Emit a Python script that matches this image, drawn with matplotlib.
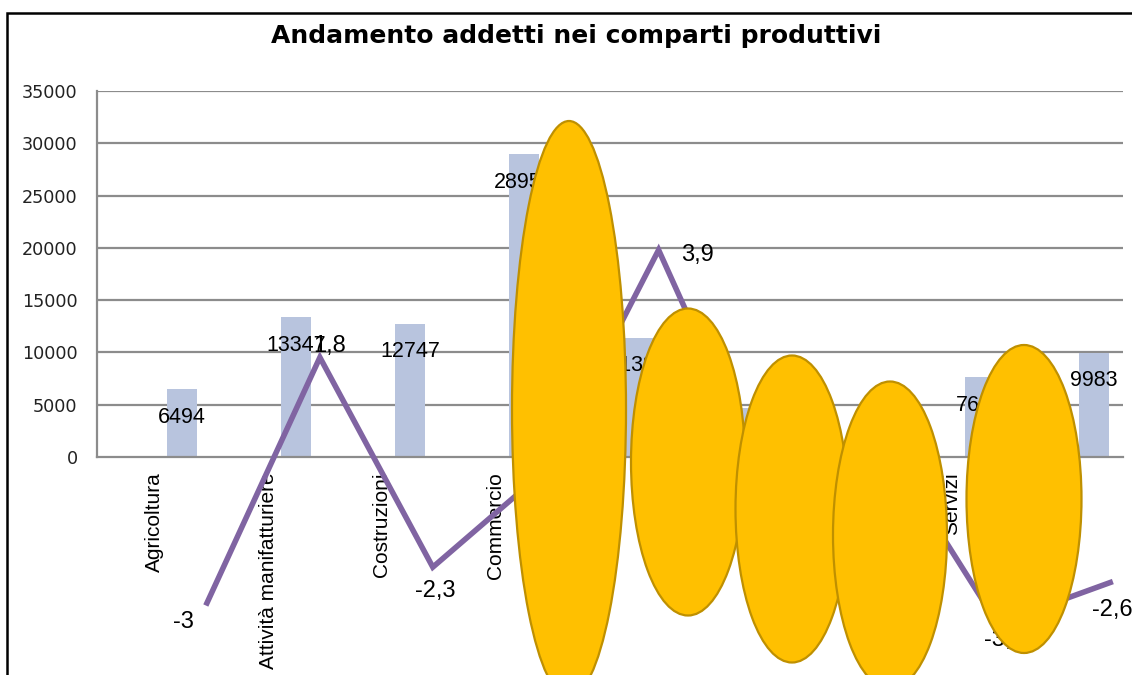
import matplotlib
matplotlib.use("Agg")
import matplotlib.pyplot as plt
from matplotlib.patches import Ellipse, Rectangle

# dati (categorie coperte nel riferimento lasciate vuote)
settori = ['Agricoltura', 'Attività manifatturiere', 'Costruzioni', 'Commercio',
           '', '', '', 'Servizi', '']
addetti = [6494, 13347, 12747, 28950, 11380, 4700, 3000, 7650, 9983]
variazione = [-3, 1.8, -2.3, -0.4, 3.9, -1.0, 0.1, -3.4, -2.6]
var_label = ['-3', '1,8', '-2,3', '-0,4', '3,9', '-1', '0,1', '-3,4', '-2,6']
yticks = [0, 5000, 10000, 15000, 20000, 25000, 30000, 35000]

# spostamento delle etichette della linea (pixel)
lbl_off = [(-24, -19), (10, 11), (2, -24), (0, -22), (39, -5),
           (0, -22), (38, -9), (7, -17), (2, -27)]

W, H = 1132, 675
fig = plt.figure(figsize=(W / 100, H / 100), dpi=100, facecolor='white')
rect = [97 / W, 0, (1123 - 97) / W, (H - 91) / H]

ax = fig.add_axes(rect)
x = list(range(len(settori)))
xb = [i + 0.245 for i in x]
ax.bar(xb, addetti, width=0.27, color='#b8c4de', zorder=2)
ax.set_xlim(-0.5, 8.5)
ax.set_ylim(-20847, 35000)
for xi, v in zip(xb, addetti):
    ax.annotate(str(v), (xi, v), xytext=(0, -28), textcoords='offset pixels',
                ha='center', va='center', fontsize=15.5,
                family='Liberation Sans', color='black', zorder=3)

ax.spines['top'].set_visible(False)
ax.spines['right'].set_visible(False)
ax.spines['bottom'].set_position(('data', 0))
ax.spines['bottom'].set_color('#8c8c8c')
ax.spines['bottom'].set_linewidth(1.6)
ax.spines['left'].set_bounds(0, 35000)
ax.spines['left'].set_color('#8c8c8c')
ax.spines['left'].set_linewidth(1.6)

ax.set_yticks(yticks)
ax.set_yticklabels([str(t) for t in yticks], fontsize=12.7, color='#222222')
ax.tick_params(axis='y', length=0, pad=14)
for t in yticks[1:]:
    ax.axhline(t, color='#8c8c8c', lw=1.6, zorder=1)

# etichette delle categorie sotto la linea dello zero
ax.set_xticks(x)
ax.set_xticklabels(settori, rotation=90, fontsize=15, family='Liberation Sans')
ax.tick_params(axis='x', length=0, pad=11)

# asse secondario per la variazione percentuale
ax2 = fig.add_axes(rect, frameon=False)
ax2.plot(x, variazione, color='#8064a2', lw=4, solid_joinstyle='miter')
ax2.set_xlim(-0.974, 8.113)
ax2.set_ylim(-4.408, 7.007)
ax2.axis('off')
for xi, v, s, (dx, dy) in zip(x, variazione, var_label, lbl_off):
    ax2.annotate(s, (xi, v), xytext=(dx, dy), textcoords='offset pixels',
                 ha='center', va='center', fontsize=17,
                 family='Liberation Sans', color='black')

fig.text(576 / W, 1 - 36 / H, 'Andamento addetti nei comparti produttivi',
         ha='center', va='center', fontsize=18, fontweight='bold')

# cornice del grafico
fig.add_artist(Rectangle((7 / W, -0.1), 1.2, (H - 13) / H + 0.1,
                         transform=fig.transFigure, fill=False,
                         lw=1.8, ec='black'))

# ovali gialli sovrapposti
ovali = [(569, 409, 114, 576), (688, 462, 114, 307), (792, 509, 113, 307),
         (890, 535, 114, 307), (1024, 499, 115, 308)]
for k, (cx, cy, w, h) in enumerate(ovali):
    fig.add_artist(Ellipse((cx / W, 1 - cy / H), w / W, h / H,
                           transform=fig.transFigure, facecolor='#ffc000',
                           edgecolor='#bf9000', lw=1.6, zorder=5 + k))

fig.savefig('out.png', dpi=100)
